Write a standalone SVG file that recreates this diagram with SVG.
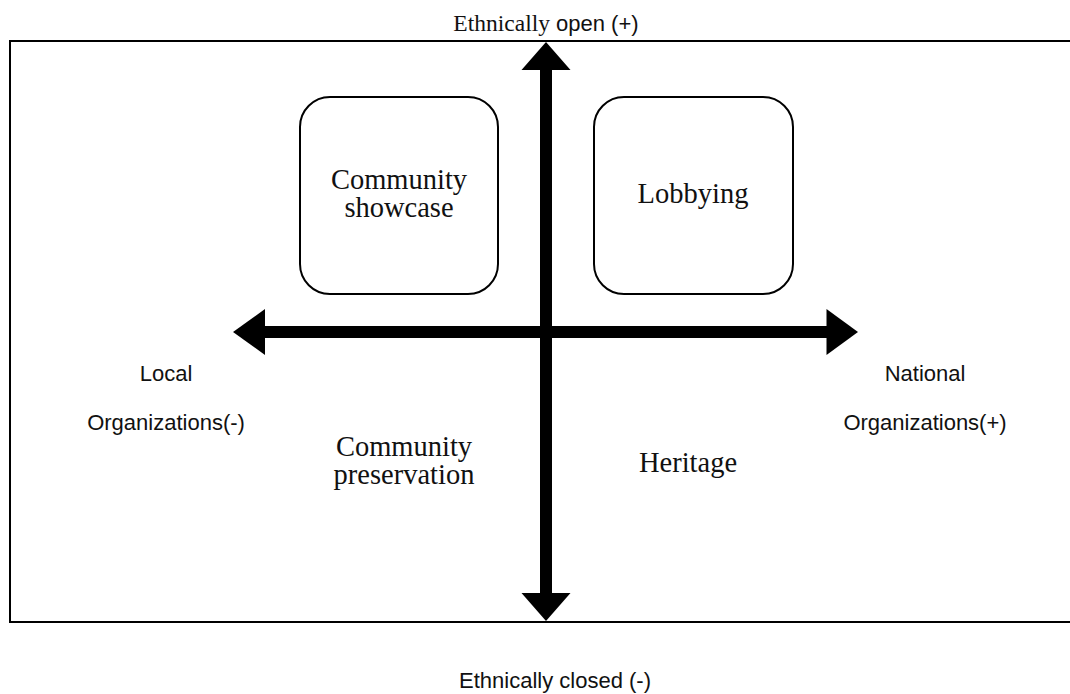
<svg xmlns="http://www.w3.org/2000/svg" width="1070" height="694" viewBox="0 0 1070 694">
  <style>
    .frame { fill: none; stroke: #000; stroke-width: 2; }
    .box { fill: #fff; stroke: #000; stroke-width: 2; }
    .shaft { stroke: #000; stroke-width: 12; fill: none; }
    .head { fill: #000; }
    .serif { font-family: "Liberation Serif", "Times New Roman", serif; font-size: 28.5px; fill: #111; text-anchor: middle; }
    .sans { font-family: "Liberation Sans", Arial, sans-serif; font-size: 22px; fill: #111; text-anchor: middle; }
    .mixed-serif { font-family: "Liberation Serif", "Times New Roman", serif; font-size: 23.5px; }
    .mixed-sans { font-family: "Liberation Sans", Arial, sans-serif; font-size: 22px; }
  </style>
  <rect width="1070" height="694" fill="#fff"/>

  <!-- outer frame, open to the right -->
  <rect id="frame" class="frame" x="10" y="41" width="1070" height="581"/>

  <!-- axis labels -->
  <g id="label-open">
    <text x="546" y="31" text-anchor="middle" fill="#111"><tspan class="mixed-serif">Ethnically</tspan><tspan class="mixed-sans"> open (+)</tspan></text>
  </g>
  <g id="label-closed">
    <text class="sans" x="555" y="688">Ethnically closed (-)</text>
  </g>
  <g id="label-local">
    <text class="sans" x="166" y="381">Local</text>
    <text class="sans" x="166" y="430">Organizations(-)</text>
  </g>
  <g id="label-national">
    <text class="sans" x="925" y="381">National</text>
    <text class="sans" x="925" y="430">Organizations(+)</text>
  </g>

  <!-- quadrant nodes -->
  <g id="community-showcase">
    <rect class="box" x="300" y="97" width="198" height="197" rx="30" ry="30"/>
    <text class="serif" x="399" y="189">Community<tspan x="399" dy="28">showcase</tspan></text>
  </g>
  <g id="lobbying">
    <rect class="box" x="594" y="97" width="199" height="197" rx="30" ry="30"/>
    <text class="serif" x="693" y="203">Lobbying</text>
  </g>
  <g id="community-preservation">
    <text class="serif" x="404" y="456">Community<tspan x="404" dy="28">preservation</tspan></text>
  </g>
  <g id="heritage">
    <text class="serif" x="688" y="472">Heritage</text>
  </g>

  <!-- axes -->
  <g id="connectors">
    <line class="shaft" x1="546" y1="66" x2="546" y2="597"/>
    <polygon class="head" points="546,42 570.5,70 521.5,70"/>
    <polygon class="head" points="546,621 570.5,593 521.5,593"/>
    <line class="shaft" x1="260" y1="332" x2="832" y2="332"/>
    <polygon class="head" points="233,332 265,309 265,355"/>
    <polygon class="head" points="858,332 826.5,309 826.5,355"/>
  </g>
</svg>
